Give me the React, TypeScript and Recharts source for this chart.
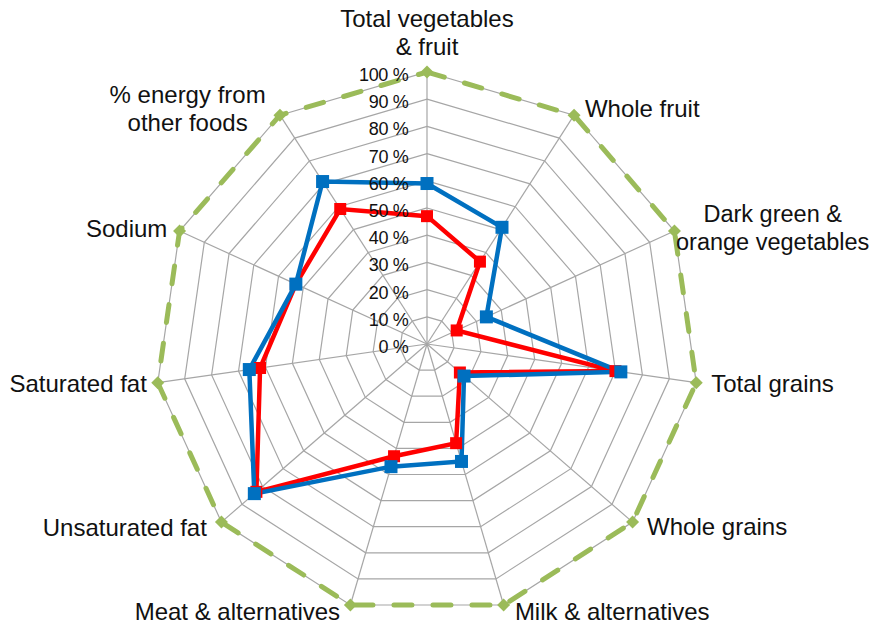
import React from "react";
import { RadarChart, Radar, PolarGrid, PolarAngleAxis, PolarRadiusAxis } from "recharts";

const categories = [
  "Total vegetables\n& fruit",
  "Whole fruit",
  "Dark green &\norange vegetables",
  "Total grains",
  "Whole grains",
  "Milk & alternatives",
  "Meat & alternatives",
  "Unsaturated fat",
  "Saturated fat",
  "Sodium",
  "% energy from\nother foods",
];
const blueValues = [59, 51, 24, 72, 18, 45, 47, 84, 66, 53, 71];
const redValues = [47, 36, 12, 70, 16, 38, 43, 83, 62, 53, 59];
const targetValues = [100, 100, 100, 100, 100, 100, 100, 100, 100, 100, 100];
const radiusTicks = [0, 10, 20, 30, 40, 50, 60, 70, 80, 90, 100];

const data = categories.map((name, i) => ({
  name,
  blue: blueValues[i],
  red: redValues[i],
  target: targetValues[i],
}));

const FONT = "'Liberation Sans', Arial, Helvetica, sans-serif";

// label layout relative to the recharts tick anchor point
const LABEL_LAYOUT: { anchor: "start" | "middle" | "end"; dx: number; dy: number[]; size?: number }[] = [
  { anchor: "middle", dx: 0, dy: [-37, -9] },
  { anchor: "start", dx: 6.5, dy: [8.8] },
  { anchor: "middle", dx: 91, dy: [-6, 22], size: 23.5 },
  { anchor: "start", dx: 7, dy: [8] },
  { anchor: "start", dx: 8.5, dy: [8] },
  { anchor: "start", dx: 9, dy: [7] },
  { anchor: "end", dx: -8, dy: [7] },
  { anchor: "end", dx: -8.5, dy: [8.5] },
  { anchor: "end", dx: -3, dy: [8.3] },
  { anchor: "end", dx: -5, dy: [9] },
  { anchor: "middle", dx: -88, dy: [-5, 23] },
];

const AngleTick = (props: any) => {
  const { x, y, payload } = props;
  let index = props.index;
  if (index === undefined || index === null) index = categories.indexOf(payload.value);
  const L = LABEL_LAYOUT[index] || { anchor: "middle", dx: 0, dy: [0, 26] };
  const lines = String(payload.value).split("\n");
  return (
    <text textAnchor={L.anchor} fontSize={L.size ?? 24} fontFamily={FONT} fill="#111">
      {lines.map((ln, i) => (
        <tspan key={i} x={x + L.dx} y={y + (L.dy[i] ?? 0)}>
          {ln}
        </tspan>
      ))}
    </text>
  );
};

const RadiusTick = (props: any) => {
  const { x, y, payload } = props;
  return (
    <text x={x - 18.5} y={y + 9} textAnchor="end" fontSize={18} fontFamily={FONT} fill="#111" letterSpacing={-0.3}>
      {`${payload.value} %`}
    </text>
  );
};

const squareDot = (color: string, size: number) => (p: any) => (
  <rect key={`d-${color}-${p.index}`} x={p.cx - size / 2} y={p.cy - size / 2} width={size} height={size} fill={color} />
);

const diamondDot = (color: string, size: number) => (p: any) => {
  const h = size / 2;
  return (
    <polygon
      key={`g-${p.index}`}
      points={`${p.cx},${p.cy - h} ${p.cx + h},${p.cy} ${p.cx},${p.cy + h} ${p.cx - h},${p.cy}`}
      fill={color}
    />
  );
};

export default function App() {
  return (
    <div style={{ width: 878, height: 625, margin: "-8px 0 0 -8px", overflow: "hidden" }}>
      <RadarChart
        width={878}
        height={625}
        data={data}
        cx={427}
        cy={344}
        outerRadius={272}
        margin={{ top: 0, right: 0, bottom: 0, left: 0 }}
      >
        <PolarGrid gridType="polygon" stroke="#A6A6A6" strokeWidth={1.2} />
        <PolarAngleAxis dataKey="name" tick={<AngleTick />} tickLine={false} axisLine={false} />
        <PolarRadiusAxis
          angle={90}
          domain={[0, 100]}
          ticks={radiusTicks}
          tick={<RadiusTick />}
          axisLine={false}
          tickLine={false}
        />
        <Radar
          dataKey="target"
          stroke="#9BBB59"
          strokeWidth={5}
          strokeDasharray="18 21"
          strokeLinecap="round"
          fill="none"
          fillOpacity={0}
          dot={diamondDot("#9BBB59", 13)}
          isAnimationActive={false}
        />
        <Radar
          dataKey="red"
          stroke="#FF0000"
          strokeWidth={4.5}
          fill="none"
          fillOpacity={0}
          dot={squareDot("#FF0000", 12)}
          isAnimationActive={false}
        />
        <Radar
          dataKey="blue"
          stroke="#0070C0"
          strokeWidth={4.5}
          fill="none"
          fillOpacity={0}
          dot={squareDot("#0070C0", 13)}
          isAnimationActive={false}
        />
      </RadarChart>
    </div>
  );
}
